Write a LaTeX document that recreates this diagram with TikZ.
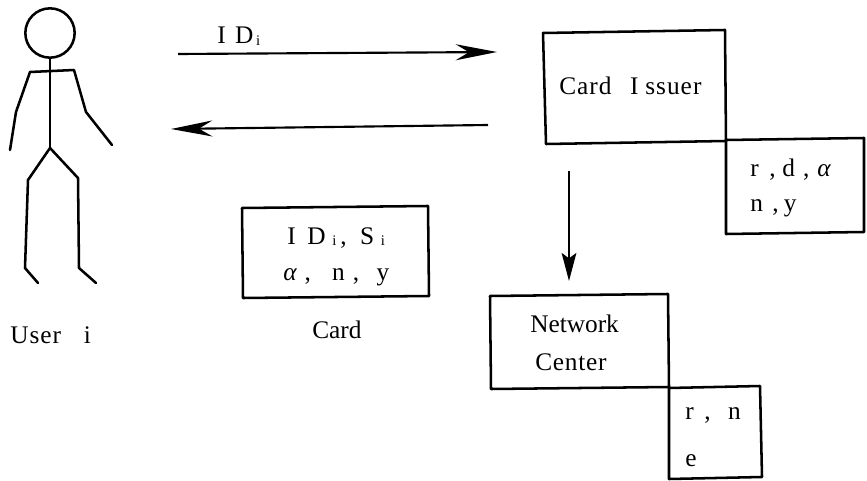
\documentclass[tikz,border=0pt]{standalone}
\usepackage{fontspec}
\setmainfont{Liberation Serif}
\usetikzlibrary{arrows.meta}
\tikzset{
 box/.style={draw=black,line width=1.9pt,line join=round},
 fig/.style={draw=black,line width=1.9pt,line join=round,line cap=round},
 lab/.style={font=\fontsize{19pt}{22pt}\selectfont,inner sep=0pt,text=black,anchor=base west},
 flow/.style={draw=black,line width=1.6pt,-{Stealth[length=31pt,width=12pt,inset=10pt]}},
 drop/.style={draw=black,line width=1.6pt,-{Stealth[length=21pt,width=11pt,inset=4pt]}},
}
\newcommand{\lowi}[1]{\raisebox{-1pt}{\fontsize{11pt}{11pt}\selectfont #1}}
\begin{document}
\begin{tikzpicture}[x=0.75pt,y=-0.75pt]
\useasboundingbox (0,0) rectangle (867,481);
% stick figure
\node[draw,line width=1.9pt,circle,minimum size=37pt,inner sep=0pt] (head) at (50,33) {};
\coordinate (hip) at (50,148);
\coordinate (lsh) at (30,72);
\coordinate (rsh) at (74,70);
\coordinate (lel) at (16,112);
\coordinate (lha) at (10,150);
\coordinate (rel) at (86,112);
\coordinate (rha) at (112,145);
\coordinate (lkn) at (28,180);
\coordinate (rkn) at (78,178);
\coordinate (lan) at (25,268);
\coordinate (lft) at (38,283);
\coordinate (ran) at (79,268);
\coordinate (rft) at (96,283);
\draw[fig] (head.south) -- (hip);
\draw[fig] (lha) -- (lel) -- (lsh) -- (rsh) -- (rel) -- (rha);
\draw[fig] (lft) -- (lan) -- (lkn) -- (hip) -- (rkn) -- (ran) -- (rft);
\node[lab] (user) at (10,343) {\addfontfeature{LetterSpace=4}User\kern17pt i};
% boxes
\draw[box] (543,33) -- (725,30) -- (726,141) -- (546,144) -- cycle;
\draw[box] (726,140) -- (864,138) -- (864,232) -- (726,234) -- cycle;
\draw[box] (242,208) -- (428,206) -- (429,296) -- (243,298) -- cycle;
\draw[box] (490,296) -- (668,294) -- (669,387) -- (491,389) -- cycle;
\draw[box] (669,388) -- (760,386) -- (762,477) -- (669,479) -- cycle;
% labels
\node[lab] (issuerlabel) at (559,95) {\addfontfeature{LetterSpace=4}Card\kern14pt I\kern5pt ssuer};
\node[lab] (k1) at (750,176) {r\kern8pt,\kern5pt d\kern6pt,\kern6pt{\itshape α}};
\node[lab] (k2) at (750,211) {n\kern7pt,\kern4pt y};
\node[lab] (c1) at (287,244) {I\kern8.7pt D\kern5pt\lowi{i}\kern3pt,\kern10pt S\kern5pt\lowi{i}};
\node[lab] (c2) at (283,280) {{\itshape α}\kern6pt,\kern16pt n\kern6pt,\kern13pt y};
\node[lab] (cardlabel) at (312,338) {Card};
\node[lab] (n1) at (530,332) {Network};
\node[lab] (n2) at (535,370) {\addfontfeature{LetterSpace=3}Center};
\node[lab] (m1) at (685,419) {r\kern8pt,\kern13pt n};
\node[lab] (m2) at (685,466) {e};
\node[lab] (idlabel) at (217,44) {I\kern7pt D\kern2pt\lowi{i}};
% connectors
\coordinate (a1) at (178,54);
\coordinate (a2) at (497,52);
\coordinate (b1) at (488,125);
\coordinate (b2) at (171,129);
\coordinate (c3) at (569,171);
\coordinate (c4) at (569,281);
\draw[flow] (a1) -- (a2);
\draw[flow] (b1) -- (b2);
\draw[drop] (c3) -- (c4);
\end{tikzpicture}
\end{document}
